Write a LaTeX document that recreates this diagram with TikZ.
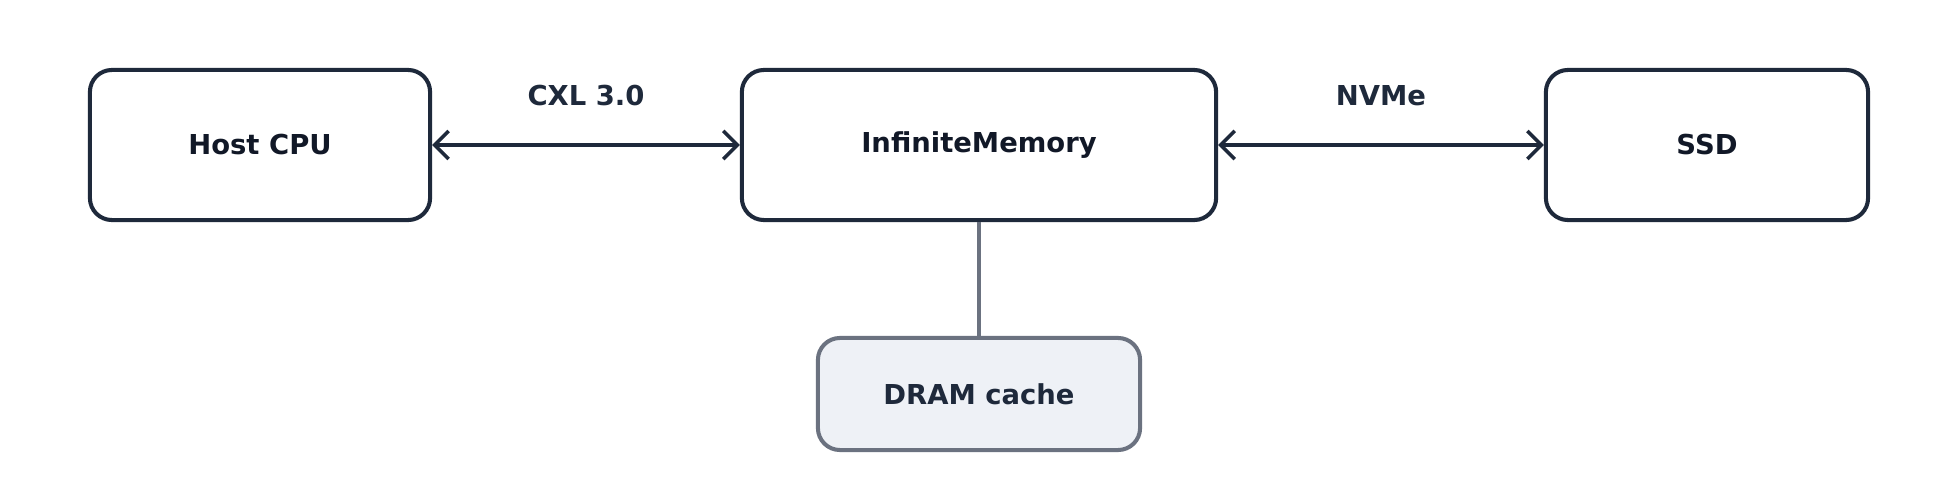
\documentclass[tikz,border=0pt]{standalone}
\usepackage{fontspec}
\setmainfont{DejaVu Sans}
\usetikzlibrary{arrows.meta}
\definecolor{ink}{HTML}{1E293B}
\definecolor{txt}{HTML}{111827}
\definecolor{gr}{HTML}{6B7280}
\definecolor{lf}{HTML}{EEF1F6}
\tikzset{
 box/.style={draw=ink,line width=1.15pt,rounded corners=0.22cm,fill=white,inner sep=0pt,
   font=\fontsize{7.8}{9}\selectfont\bfseries,text=txt},
 sub/.style={draw=gr,line width=1.15pt,rounded corners=0.22cm,fill=lf,inner sep=0pt,
   font=\fontsize{7.8}{9}\selectfont\bfseries,text=ink},
 conn/.style={draw=ink,line width=1pt,{Straight Barb[length=4pt,width=8pt]}-{Straight Barb[length=4pt,width=8pt]}},
 lab/.style={font=\fontsize{7.8}{9}\selectfont\bfseries,text=ink}
}
\begin{document}
\begin{tikzpicture}[x=0.01cm,y=-0.01cm]
\useasboundingbox (0,0) rectangle (1956,500);
\node[box,minimum width=3.4cm,minimum height=1.5cm] (cpu) at (260,145) {Host CPU};
\node[box,minimum width=4.74cm,minimum height=1.5cm] (im) at (979,145) {InfiniteMemory};
\node[box,minimum width=3.22cm,minimum height=1.5cm] (ssd) at (1707,145) {SSD};
\node[sub,minimum width=3.22cm,minimum height=1.12cm] (dram) at (979,394) {DRAM cache};
\draw[conn] (cpu) -- (im) node[midway,lab,yshift=0.49cm] (l1) {CXL 3.0};
\draw[conn] (im) -- (ssd) node[midway,lab,yshift=0.49cm] (l2) {NVMe};
\draw[draw=gr,line width=1pt] (im.south) -- (dram.north);
\end{tikzpicture}
\end{document}
